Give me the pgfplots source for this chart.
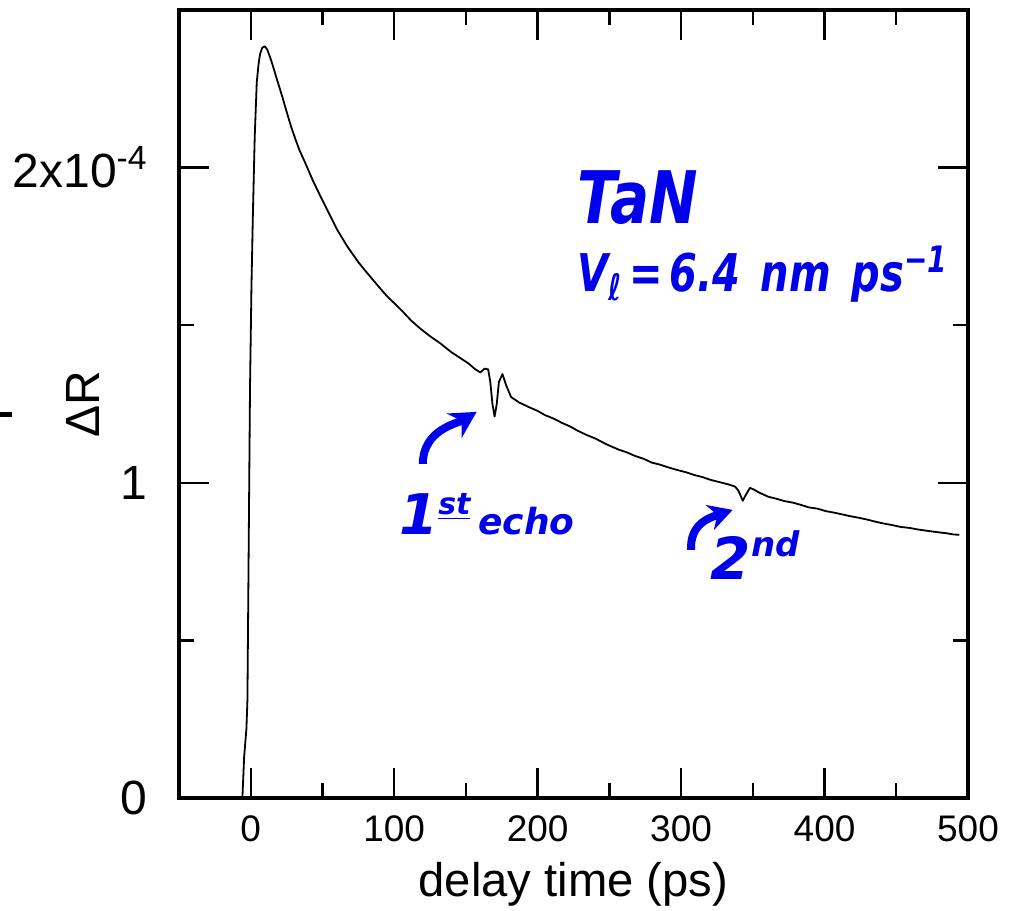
\documentclass[border=0pt]{standalone}
\usepackage{fontspec}
\setmainfont{Liberation Sans}
\newfontfamily\hand{DejaVu Sans}
\usepackage{pgfplots}
\usepackage{pgfplotstable}
\pgfplotsset{compat=1.18}
\usetikzlibrary{calc,arrows.meta}
\definecolor{ink}{RGB}{0,0,235}

\pgfplotstableread{
t v
-6.5 -0.03
-5.8 0.00
-4.6 0.13
-3.0 0.22
-2.3 0.31
-1.5 0.75
-0.5 1.30
0.5 1.62
1.5 1.85
2.8 2.10
4.2 2.27
5.5 2.33
6.5 2.36
8.0 2.380
9.7 2.385
11.5 2.375
13.5 2.350
15.3 2.325
18.6 2.275
22.0 2.225
25.5 2.170
28.0 2.132
31.0 2.092
34.0 2.055
38.0 2.015
43.0 1.962
48.5 1.910
54.0 1.860
60.0 1.805
67.0 1.752
75.0 1.700
80.0 1.672
85.0 1.645
90.0 1.618
95.0 1.592
100.0 1.570
106.0 1.543
112.0 1.514
118.0 1.490
125.0 1.465
132.0 1.443
140.0 1.414
148.0 1.390
152.0 1.378
156.0 1.362
160.0 1.350
163.0 1.362
165.5 1.360
167.0 1.320
168.5 1.250
170.0 1.210
171.5 1.250
173.0 1.320
175.5 1.345
178.0 1.310
181.5 1.272
187.0 1.255
194.0 1.240
200.0 1.228
205.0 1.215
211.0 1.204
217.0 1.190
223.0 1.178
228.0 1.165
234.0 1.152
240.5 1.140
248.0 1.122
256.6 1.105
262.0 1.097
268.0 1.085
274.0 1.076
279.6 1.064
285.0 1.058
291.0 1.049
297.0 1.041
303.0 1.034
309.0 1.025
315.0 1.018
320.0 1.010
326.0 1.003
333.0 0.995
337.6 0.988
340.0 0.975
343.0 0.943
345.5 0.965
348.0 0.984
351.0 0.978
354.0 0.970
360.6 0.956
366.0 0.950
372.0 0.942
378.0 0.937
383.5 0.930
389.0 0.922
395.0 0.918
401.0 0.910
407.0 0.905
412.0 0.900
418.0 0.894
424.0 0.889
430.0 0.883
436.0 0.876
441.0 0.871
447.0 0.866
453.0 0.860
459.0 0.857
465.0 0.852
471.0 0.848
476.0 0.845
481.0 0.842
485.0 0.840
490.0 0.836
494.0 0.835
}\datatable

\begin{document}
\begin{tikzpicture}
\begin{axis}[
  scale only axis, width=394.5pt, height=394pt,
  xmin=-50, xmax=500, ymin=0, ymax=2.5,
  xtick={0,100,...,500}, minor x tick num=1,
  ytick={0,1,2}, yticklabels={0,1,{2x10\textsuperscript{-4}}}, minor y tick num=1,
  tick align=inside, xtick pos=both, ytick pos=both,
  xticklabel pos=lower, yticklabel pos=left,
  major tick length=15pt, minor tick length=7.5pt,
  every tick/.style={black, line width=1.2pt},
  axis line style={line width=2.3pt},
  /pgf/number format/assume math mode=true,
  xticklabel style={font=\fontsize{18.5}{20}\selectfont, inner sep=0pt, anchor=north, yshift=-8.5pt},
  yticklabel style={font=\fontsize{24}{26}\selectfont, inner sep=0pt, anchor=east, xshift=-15.5pt},
  xlabel={delay time (ps)}, ylabel={ΔR},
  xlabel style={font=\fontsize{23.6}{26}\selectfont, at={(axis description cs:0.5,-0.1244)}, anchor=base},
  ylabel style={font=\fontsize{24}{26}\selectfont, at={(axis description cs:-0.1217,0.5)}, anchor=center},
]
\addplot[black, line width=0.9pt, line join=round] table[x=t, y=v] {\datatable};

\node[ink, anchor=base west, inner sep=0pt, yscale=1.25] at (axis cs:227.5,1.822)
  {\hand\bfseries\itshape\fontsize{29}{30}\selectfont TaN};
\node[ink, anchor=base west, inner sep=0pt, yscale=1.3] at (axis cs:227.5,1.606)
  {\hand\bfseries\itshape\fontsize{20}{22}\selectfont V\textsubscript{ℓ}\,=\,6.4\, nm\, ps\textsuperscript{−1}};

\node[ink, anchor=base west, inner sep=0pt] at (axis cs:103.3,0.835)
  {\hand\bfseries\itshape{\fontsize{28}{28}\selectfont 1}\raisebox{10pt}{\fontsize{15}{15}\selectfont\underline{st}}\hspace{4pt}{\fontsize{18}{18}\selectfont echo}};
\node[ink, anchor=base west, inner sep=0pt] at (axis cs:320.4,0.692)
  {\hand\bfseries\itshape{\fontsize{29}{29}\selectfont 2}\raisebox{11.5pt}{\fontsize{17}{17}\selectfont nd}};

\draw[ink, line width=4pt, -{Stealth[length=13pt,width=14pt]}]
  (axis cs:120,1.06) .. controls (axis cs:120,1.17) and (axis cs:145,1.19) .. (axis cs:157.5,1.225);
\draw[ink, line width=4pt, -{Stealth[length=12pt,width=13pt]}]
  (axis cs:307,0.787) .. controls (axis cs:306,0.87) and (axis cs:320,0.89) .. (axis cs:336,0.914);
\end{axis}
\draw[line width=2.5pt] ($(current axis.south west)+(-89.5pt,191.5pt)$) -- ++(6pt,0);
\pgfresetboundingbox
\path[use as bounding box] ($(current axis.south west)+(-89.5pt,-56pt)$) rectangle ($(current axis.north east)+(24.5pt,5pt)$);
\end{tikzpicture}
\end{document}
